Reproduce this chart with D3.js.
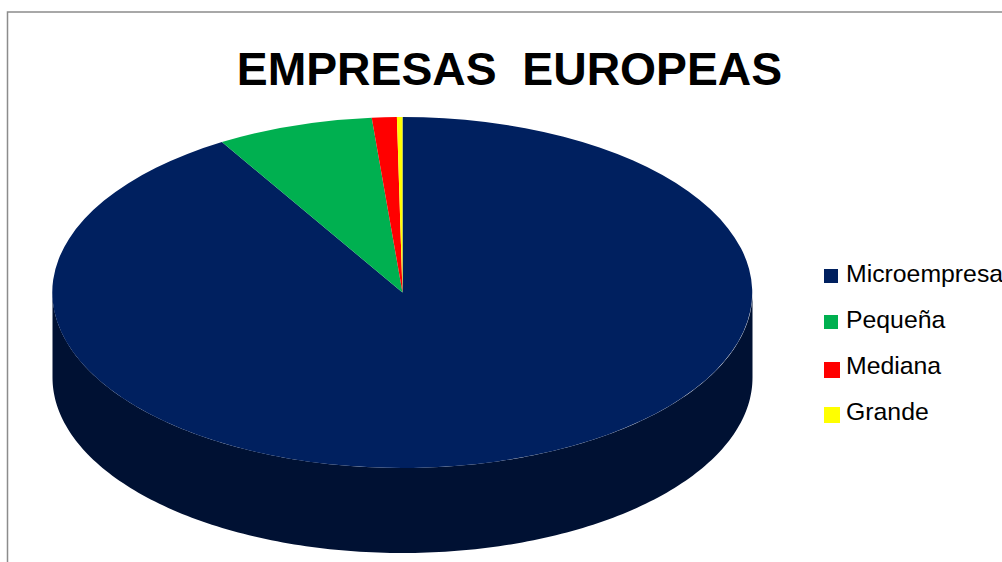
<!DOCTYPE html>
<html>
<head>
<meta charset="utf-8">
<script src="https://cdn.jsdelivr.net/npm/d3@7/dist/d3.min.js"></script>
<style>
  html, body { margin: 0; padding: 0; background: #fff; overflow: hidden; }
  svg { display: block; }
  text { font-family: "Liberation Sans", Arial, sans-serif; fill: #000; }
</style>
</head>
<body>
<div id="chart"></div>
<script>
const chartTitle = "EMPRESAS  EUROPEAS";
const categories = ["Microempresa", "Pequeña", "Mediana", "Grande"];
const shares = [91.38, 7.22, 1.15, 0.25];
const colours = ["#00205f", "#00b050", "#ff0000", "#ffff00"];
const sideColour = "#001133";

const width = 1002, height = 562;
const centre = { x: 402.5, y: 292.5 };
const radii = { x: 350, y: 175.5 };
const depth = 85;

const svg = d3.select("#chart").append("svg")
  .attr("width", width).attr("height", height);

// Chart frame: only its top and left edges fall inside the page
svg.append("path")
  .attr("d", `M7.5,${height}V12H${width}`)
  .attr("fill", "none").attr("stroke", "#8c8c8c").attr("stroke-width", 1.5);

svg.append("text")
  .attr("x", 509.5).attr("y", 85)
  .attr("text-anchor", "middle")
  .attr("font-size", 46.3).attr("font-weight", "bold")
  .attr("xml:space", "preserve")
  .style("white-space", "pre")
  .text(chartTitle);

// Ellipse projection of a pie angle (0 at the top, clockwise)
const px = d3.scaleLinear().domain([-1, 1]).range([centre.x - radii.x, centre.x + radii.x]);
const py = d3.scaleLinear().domain([-1, 1]).range([centre.y - radii.y, centre.y + radii.y]);

// Visible wall of the disc: the lower half of the rim, extruded downwards
const rimAngles = d3.range(0, 181).map(d => (90 + d) * Math.PI / 180);
const wall = d3.area()
  .x(a => px(Math.sin(a)))
  .y0(a => py(-Math.cos(a)))
  .y1(a => py(-Math.cos(a)) + depth);

svg.append("path")
  .attr("d", wall(rimAngles))
  .attr("fill", sideColour);

// Top face: unit-circle slices flattened by the ellipse radii
const pie = d3.pie().sort(null).value(d => d);
const arc = d3.arc().innerRadius(0).outerRadius(1);

svg.append("g")
  .attr("transform", `translate(${centre.x},${centre.y}) scale(${radii.x},${radii.y})`)
  .selectAll("path")
  .data(pie(shares))
  .join("path")
  .attr("d", arc)
  .attr("fill", (d, i) => colours[i]);

// Legend: swatches sit on their own rows, labels on an even baseline grid
const swatchRows = [276, 322, 370, 415];
const swatchSize = [14, 14, 16, 16];
const baselines = d3.scalePoint().domain(categories).range([282, 420]);

const legend = svg.append("g").selectAll("g")
  .data(categories)
  .join("g");

legend.append("rect")
  .attr("x", 824)
  .attr("y", (d, i) => swatchRows[i] - swatchSize[i] / 2)
  .attr("width", (d, i) => swatchSize[i])
  .attr("height", (d, i) => swatchSize[i])
  .attr("fill", (d, i) => colours[i]);

legend.append("text")
  .attr("x", 846)
  .attr("y", d => baselines(d))
  .attr("font-size", 24.8)
  .text(d => d);
</script>
</body>
</html>
